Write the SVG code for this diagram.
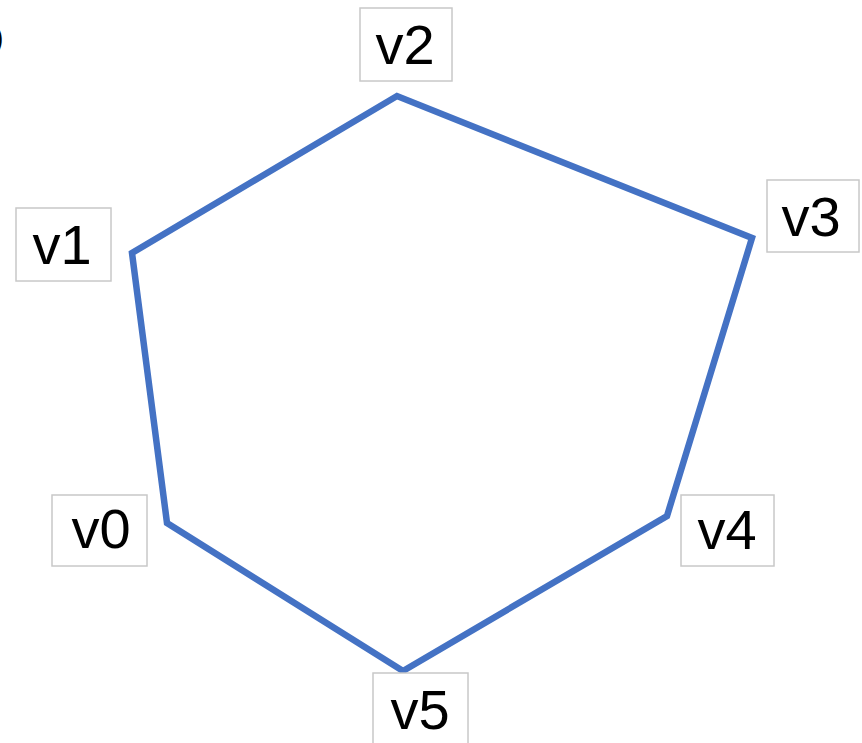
<svg xmlns="http://www.w3.org/2000/svg" width="862" height="743" viewBox="0 0 862 743">
<style>
.box{fill:#fff;stroke:#c8c8c8;stroke-width:1.5}
.lbl{font-family:"Liberation Sans",Arial,sans-serif;font-size:56px;fill:#000;text-anchor:middle}
.edge{fill:none;stroke:#4472c4;stroke-width:6.5;stroke-linejoin:miter}
</style>
<rect width="862" height="743" fill="#fff"/>
<text x="-7" y="48" style="font-family:'Liberation Sans',Arial,sans-serif;font-size:32px">)</text>
<g id="edges">
<polygon class="edge" points="167,523 132,253 397,96 752,238 667,516 403,671"/>
</g>
<g id="v0"><rect class="box" x="52" y="495" width="95" height="71"/><text class="lbl" x="101" y="548">v0</text></g>
<g id="v1"><rect class="box" x="16" y="208" width="95" height="73"/><text class="lbl" x="62" y="264">v1</text></g>
<g id="v2"><rect class="box" x="360" y="8" width="92" height="73"/><text class="lbl" x="405" y="64">v2</text></g>
<g id="v3"><rect class="box" x="767" y="180" width="92" height="72"/><text class="lbl" x="811" y="236">v3</text></g>
<g id="v4"><rect class="box" x="681" y="495" width="93" height="71"/><text class="lbl" x="727" y="549">v4</text></g>
<g id="v5"><rect class="box" x="373" y="673" width="95" height="80"/><text class="lbl" x="420" y="729">v5</text></g>
</svg>
